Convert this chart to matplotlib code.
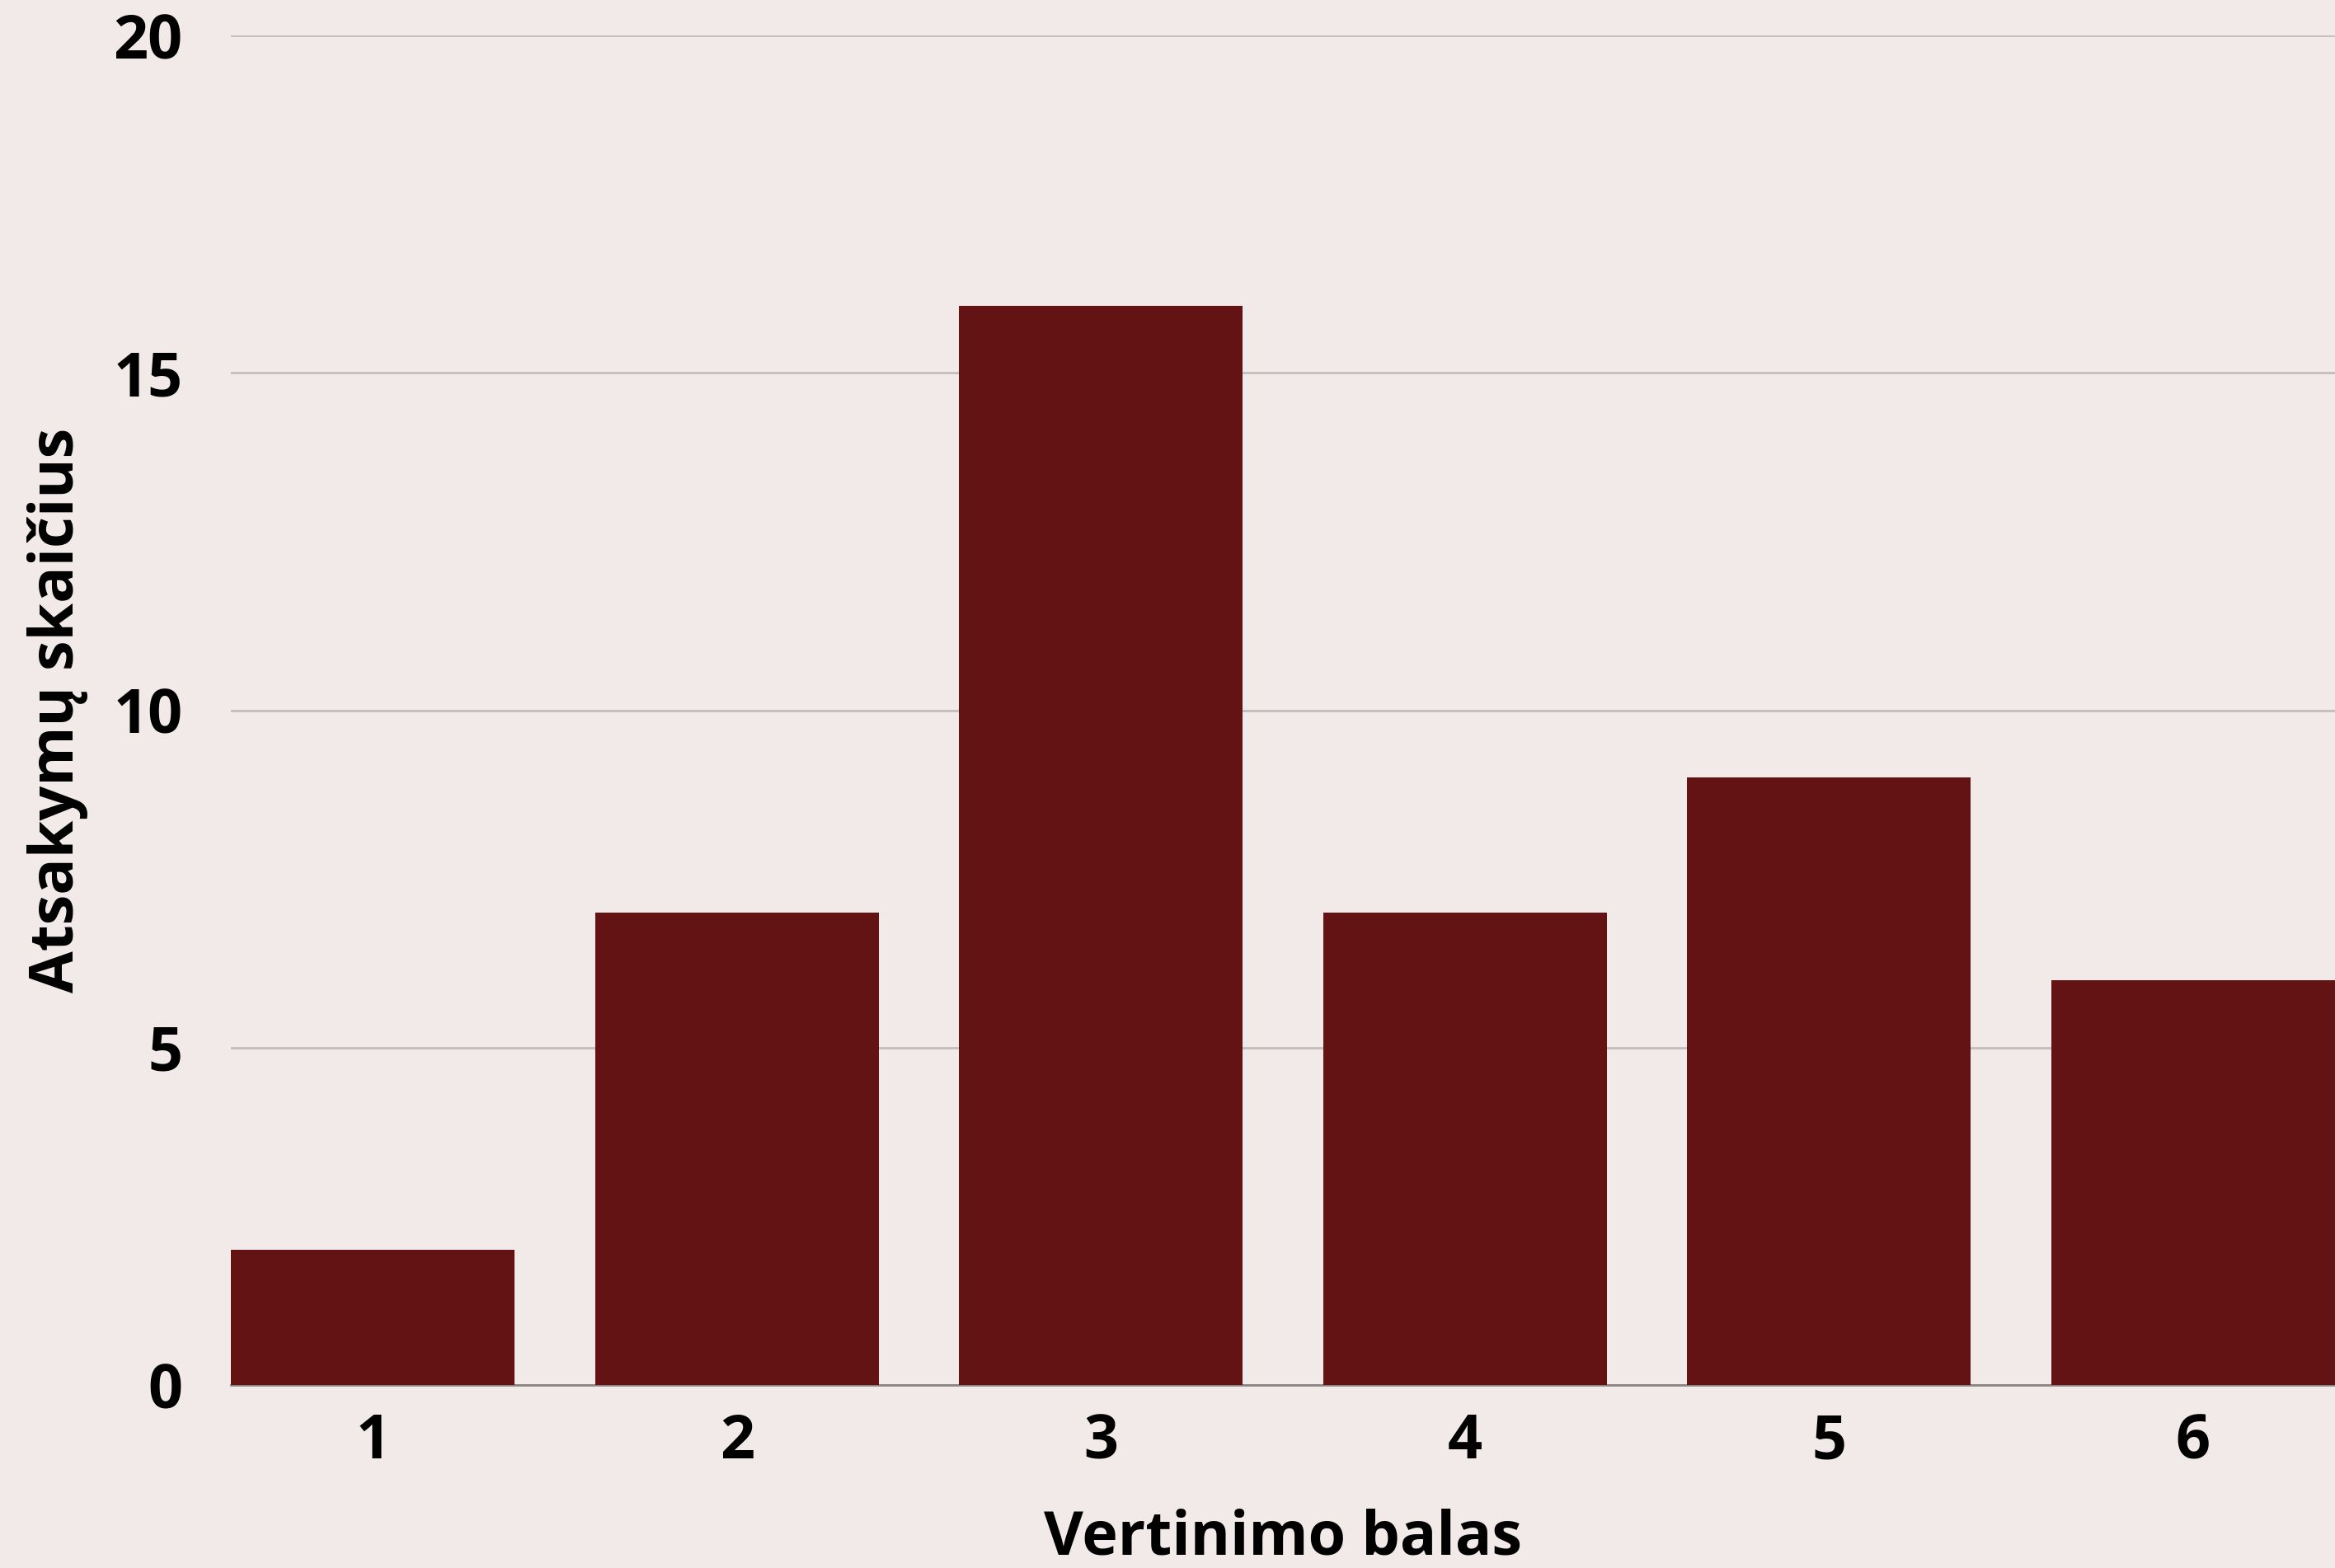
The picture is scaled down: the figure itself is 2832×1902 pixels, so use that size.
import matplotlib
matplotlib.use("Agg")
import matplotlib.pyplot as plt

# Vertinimo balai ir atsakymų skaičius
scores = [1, 2, 3, 4, 5, 6]
counts = [2, 7, 16, 7, 9, 6]
y_ticks = [0, 5, 10, 15, 20]

bg = "#f2eae8"
bar_color = "#641315"

plt.rcParams["font.family"] = ["Open Sans", "DejaVu Sans"]

fig = plt.figure(figsize=(14.16, 9.51), dpi=200, facecolor=bg)
ax = fig.add_axes([0.0989, 0.1167, 0.9011, 0.8606])
ax.set_facecolor(bg)

width = 0.78
ax.bar(scores, counts, width=width, color=bar_color, zorder=3)

ax.set_xlim(scores[0] - width / 2, scores[-1] + width / 2)
ax.set_ylim(0, 20)
ax.set_yticks(y_ticks)
ax.set_xticks(scores)
ax.yaxis.grid(True, color="#c4bcba", linewidth=1.0, zorder=0)
ax.set_axisbelow(True)

for side in ["top", "right", "left"]:
    ax.spines[side].set_visible(False)
ax.spines["bottom"].set_color("#8a8583")
ax.spines["bottom"].set_linewidth(1.0)
ax.spines["bottom"].set_zorder(2)

ax.tick_params(axis="both", length=0, labelsize=26.5)
ax.tick_params(axis="x", pad=12)
ax.tick_params(axis="y", pad=21)
for lab in ax.get_xticklabels() + ax.get_yticklabels():
    lab.set_fontweight("bold")

ax.set_xlabel("Vertinimo balas", fontsize=26.5, fontweight="bold", labelpad=15)
ax.set_ylabel("Atsakymų skaičius", fontsize=26.5, fontweight="bold", labelpad=11)

fig.savefig("out.png", dpi=200, facecolor=bg)
